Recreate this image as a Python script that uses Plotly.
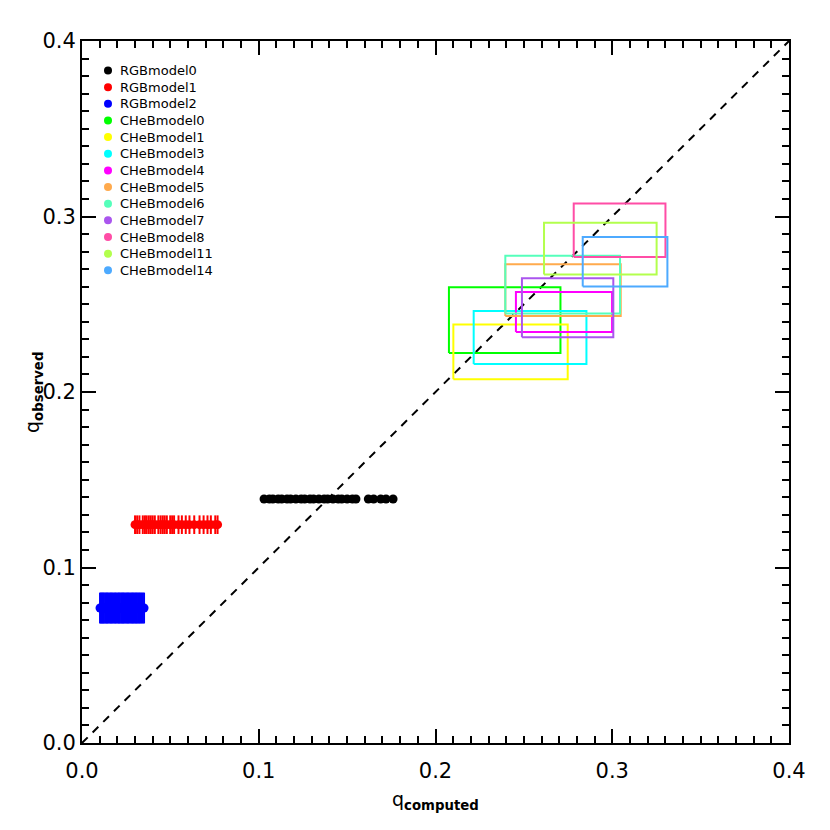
import plotly.graph_objects as go

# ---------------- data ----------------
rgb0_x = [0.103, 0.106, 0.108, 0.111, 0.113, 0.116, 0.118, 0.121, 0.124, 0.126, 0.129,
          0.131, 0.134, 0.137, 0.139, 0.142, 0.145, 0.147, 0.150, 0.153, 0.155,
          0.162, 0.165, 0.169, 0.172, 0.176]
rgb0_y = 0.139
rgb0_err = 0.0

rgb1_x = [0.0300, 0.0312, 0.0325, 0.0344, 0.0356, 0.0366, 0.0378, 0.0389, 0.0400, 0.0412,
          0.0432, 0.0445, 0.0457, 0.0468, 0.0480, 0.0499, 0.0510, 0.0521, 0.0546, 0.0565,
          0.0587, 0.0608, 0.0635, 0.0665, 0.0688, 0.0710, 0.0729, 0.0754, 0.0767]
rgb1_y = 0.1244
rgb1_err = 0.0053

rgb2_x = [0.0102, 0.0108, 0.0113, 0.0119, 0.0124, 0.0131, 0.0137, 0.0142, 0.0148, 0.0155,
          0.0161, 0.0166, 0.0172, 0.0178, 0.0185, 0.0190, 0.0196, 0.0203, 0.0209, 0.0214,
          0.0221, 0.0227, 0.0232, 0.0238, 0.0245, 0.0251, 0.0257, 0.0262, 0.0268, 0.0275,
          0.0281, 0.0287, 0.0292, 0.0299, 0.0305, 0.0311, 0.0318, 0.0324, 0.0330, 0.0337,
          0.0343, 0.0351]
rgb2_y = 0.0769
rgb2_err = 0.0088

# CHeB boxes: computed range (x) and observed range (y)
cheb_names = ["CHeBmodel0", "CHeBmodel1", "CHeBmodel3", "CHeBmodel4", "CHeBmodel5",
              "CHeBmodel6", "CHeBmodel7", "CHeBmodel8", "CHeBmodel11", "CHeBmodel14"]
cheb_xmin = [0.2076, 0.2101, 0.2216, 0.2455, 0.2395, 0.2395, 0.2489, 0.2782, 0.2614, 0.2833]
cheb_xmax = [0.2707, 0.2748, 0.2854, 0.2999, 0.3048, 0.3044, 0.3006, 0.3301, 0.3251, 0.3312]
cheb_ymin = [0.2222, 0.2072, 0.2160, 0.2342, 0.2433, 0.2447, 0.2312, 0.2769, 0.2669, 0.2601]
cheb_ymax = [0.2597, 0.2384, 0.2462, 0.2570, 0.2728, 0.2777, 0.2648, 0.3074, 0.2965, 0.2883]
cheb_colors = ["#00FF00", "#FFFF00", "#00FFFF", "#FF00FF", "#FFAA4D",
               "#55FFBB", "#AA55EE", "#FF4DA6", "#B3FF4D", "#4DAAFF"]

rgb_names = ["RGBmodel0", "RGBmodel1", "RGBmodel2"]
rgb_colors = ["#000000", "#FF0000", "#0000FF"]

diag = [0.0, 0.4]
ticks = [0.0, 0.1, 0.2, 0.3, 0.4]
tick_text = ["0.0", "0.1", "0.2", "0.3", "0.4"]

FONT = "DejaVu Sans"

# plot area geometry (pixels) used for legend placement in paper coords
PW, PH = 707.0, 702.0

fig = go.Figure()

# diagonal
fig.add_trace(go.Scatter(x=diag, y=diag, mode="lines", showlegend=False,
                         line=dict(color="black", width=2, dash="8px,7px"), hoverinfo="skip"))

# CHeB rectangles
for i, name in enumerate(cheb_names):
    xs = [cheb_xmin[i], cheb_xmax[i], cheb_xmax[i], cheb_xmin[i], cheb_xmin[i]]
    ys = [cheb_ymin[i], cheb_ymin[i], cheb_ymax[i], cheb_ymax[i], cheb_ymin[i]]
    fig.add_trace(go.Scatter(x=xs, y=ys, mode="lines", showlegend=False,
                             line=dict(color=cheb_colors[i], width=2), name=name))

# RGB points
rgb_sets = [(rgb0_x, rgb0_y, rgb0_err), (rgb1_x, rgb1_y, rgb1_err), (rgb2_x, rgb2_y, rgb2_err)]
for (xs, yv, err), name, col in zip(rgb_sets, rgb_names, rgb_colors):
    fig.add_trace(go.Scatter(
        x=xs, y=[yv] * len(xs), mode="markers", name=name, showlegend=False,
        marker=dict(color=col, size=9, symbol="circle", line=dict(width=0)),
        error_y=dict(type="constant", value=err, color=col, thickness=2, width=0,
                     visible=err > 0),
    ))

# custom legend (compact spacing like the original)
leg_names = rgb_names + cheb_names
leg_colors = rgb_colors + cheb_colors
shapes = []
annotations = []
x_mark = 26.0 / PW       # marker centre, px from left edge of plot area
r_x = 4.0 / PW
r_y = 4.0 / PH
for i, (nm, col) in enumerate(zip(leg_names, leg_colors)):
    yc = 1.0 - (29.5 + 16.65 * i) / PH
    shapes.append(dict(type="circle", xref="paper", yref="paper",
                       x0=x_mark - r_x, x1=x_mark + r_x, y0=yc - r_y, y1=yc + r_y,
                       fillcolor=col, line=dict(width=0)))
    annotations.append(dict(text=nm, xref="paper", yref="paper", x=36.0 / PW, y=yc,
                            xanchor="left", yanchor="middle", showarrow=False,
                            font=dict(family=FONT, size=13, color="black")))

# axis titles
annotations.append(dict(text="q<sub><b>computed</b></sub>", xref="paper", yref="paper",
                        x=0.5, y=-57.0 / PH, xanchor="center", yanchor="middle",
                        showarrow=False, font=dict(family=FONT, size=19, color="black")))
annotations.append(dict(text="q<sub><b>observed</b></sub>", xref="paper", yref="paper",
                        x=-49.0 / PW, y=0.5, xanchor="center", yanchor="middle",
                        textangle=-90, showarrow=False,
                        font=dict(family=FONT, size=19, color="black")))

axis_common = dict(
    range=[0.0, 0.4], tickvals=ticks, ticktext=tick_text,
    showgrid=False, zeroline=False, showline=True, linecolor="black", linewidth=2,
    mirror="allticks", ticks="inside", ticklen=14, tickwidth=1.5, tickcolor="black",
    minor=dict(dtick=0.01, ticks="inside", ticklen=7, tickwidth=1.5, tickcolor="black"),
    tickfont=dict(family=FONT, size=21, color="black"),
)

fig.update_layout(
    width=830, height=830,
    paper_bgcolor="white", plot_bgcolor="white",
    margin=dict(l=74, r=49, t=33, b=95),
    xaxis=dict(**axis_common, ticklabelstandoff=8),
    yaxis=dict(**axis_common, ticklabelstandoff=0),
    shapes=shapes,
    annotations=annotations,
    showlegend=False,
)

fig.write_html("out.html")
